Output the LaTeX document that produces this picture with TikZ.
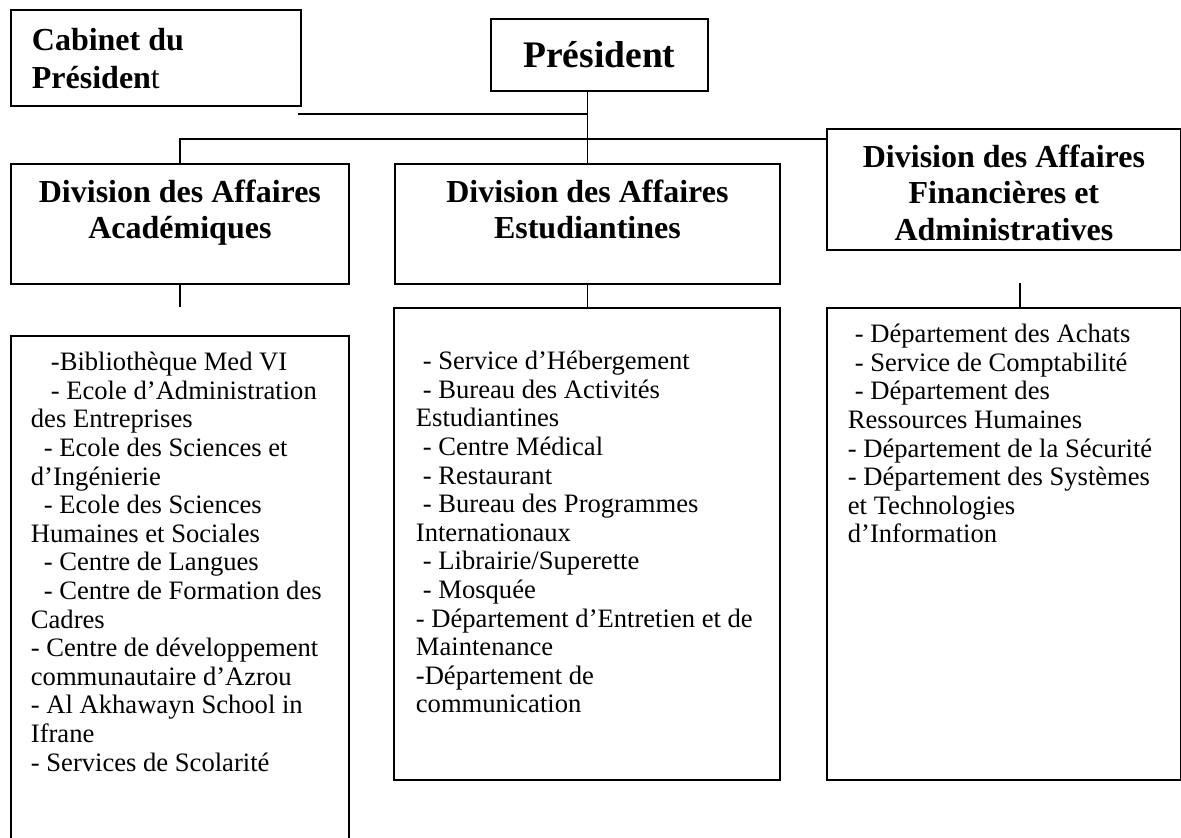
\documentclass[tikz,border=0pt]{standalone}
\usepackage{fontspec}
\setmainfont{Liberation Serif}
\usepackage{tikz}
\newcommand{\headsize}{\fontsize{16}{18.25}\selectfont}
\newcommand{\listsize}{\fontsize{13.3}{14.3}\selectfont}
\newcommand{\topfill}[4]{\parbox[c][#2][t]{#1}{\vspace*{#3}#4}}

\begin{document}
\begin{tikzpicture}[x=0.5pt, y=-0.5pt, line width=0.75pt,
   box/.style={draw, line width=0.9pt, anchor=north west, inner sep=0pt}]
  \useasboundingbox (0, 0) rectangle (1181, 837);
  % top row
  \node[box, inner xsep=10.5pt] (cab) at (10, 9) {\topfill{124pt}{48pt}{7.2pt}{\fontsize{16}{19}\selectfont\begin{tabular}[t]{@{}l@{}} \textbf{Cabinet du} \\ \textbf{Présiden}t \end{tabular}}};
  \node[box, minimum width=108.5pt, minimum height=36pt] (pres) at (490, 18) {\fontsize{18.75}{22}\selectfont\bfseries Président};
  % divisions
  \node[box] (acadhead) at (10, 163) {\topfill{169pt}{60pt}{6.5pt}{\centering\headsize\bfseries\begin{tabular}[t]{@{}c@{}} Division des Affaires \\ Académiques \end{tabular}}};
  \node[box] (etudhead) at (394, 163) {\topfill{192.5pt}{60pt}{6.5pt}{\centering\headsize\bfseries\begin{tabular}[t]{@{}c@{}} Division des Affaires \\ Estudiantines \end{tabular}}};
  \node[box] (finhead) at (826, 128) {\topfill{177pt}{60.5pt}{6.5pt}{\centering\headsize\bfseries\begin{tabular}[t]{@{}c@{}} Division des Affaires \\ Financières et \\ Administratives \end{tabular}}};
  % services
  \node[box, inner xsep=10pt] (acadlist) at (10, 335) {\topfill{149pt}{257.5pt}{7.4pt}{\listsize\begin{tabular}[t]{@{}l@{}}
     \hspace*{10pt}-Bibliothèque Med VI \\
     \hspace*{10pt}- Ecole d’Administration \\
     des Entreprises \\
     \hspace*{6.5pt}- Ecole des Sciences et \\
     d’Ingénierie \\
     \hspace*{6.5pt}- Ecole des Sciences \\
     Humaines et Sociales \\
     \hspace*{6.5pt}- Centre de Langues \\
     \hspace*{6.5pt}- Centre de Formation des \\
     Cadres \\
     - Centre de développement \\
     communautaire d’Azrou \\
     - Al Akhawayn School in \\
     Ifrane \\
     - Services de Scolarité \end{tabular}}};
  \node[box, inner xsep=11pt] (etudlist) at (393, 307) {\topfill{171pt}{236pt}{20.9pt}{\listsize\begin{tabular}[t]{@{}l@{}}
     \hspace*{3.5pt}- Service d’Hébergement \\
     \hspace*{3.5pt}- Bureau des Activités \\
     Estudiantines \\
     \hspace*{3.5pt}- Centre Médical \\
     \hspace*{3.5pt}- Restaurant \\
     \hspace*{3.5pt}- Bureau des Programmes \\
     Internationaux \\
     \hspace*{3.5pt}- Librairie/Superette \\
     \hspace*{3.5pt}- Mosquée \\
     - Département d’Entretien et de \\
     Maintenance \\
     -Département de \\
     communication \end{tabular}}};
  \node[box, inner xsep=10.5pt] (finlist) at (826, 307) {\topfill{156pt}{236pt}{7.4pt}{\listsize\begin{tabular}[t]{@{}l@{}}
     \hspace*{3.5pt}- Département des Achats \\
     \hspace*{3.5pt}- Service de Comptabilité \\
     \hspace*{3.5pt}- Département des \\
     Ressources Humaines \\
     - Département de la Sécurité \\
     - Département des Systèmes \\
     et Technologies \\
     d’Information \end{tabular}}};
  % links
  \coordinate (cabjoin) at (298, 114);
  \coordinate (bus) at (586, 139);
  \coordinate (acadtick) at (179, 307);
  \coordinate (fintick) at (1020, 283);
  \draw (etudhead.north |- pres.south) -- (etudhead.north);
  \draw (cabjoin) -- (cabjoin -| etudhead.north);
  \draw (acadhead.north) -- (acadhead.north |- bus) -- (finhead.west |- bus);
  \draw (acadhead.south) -- (acadhead.south |- acadtick);
  \draw (etudhead.south) -- (etudhead.south |- etudlist.north);
  \draw (fintick) -- (fintick |- finlist.north);
\end{tikzpicture}
\end{document}
